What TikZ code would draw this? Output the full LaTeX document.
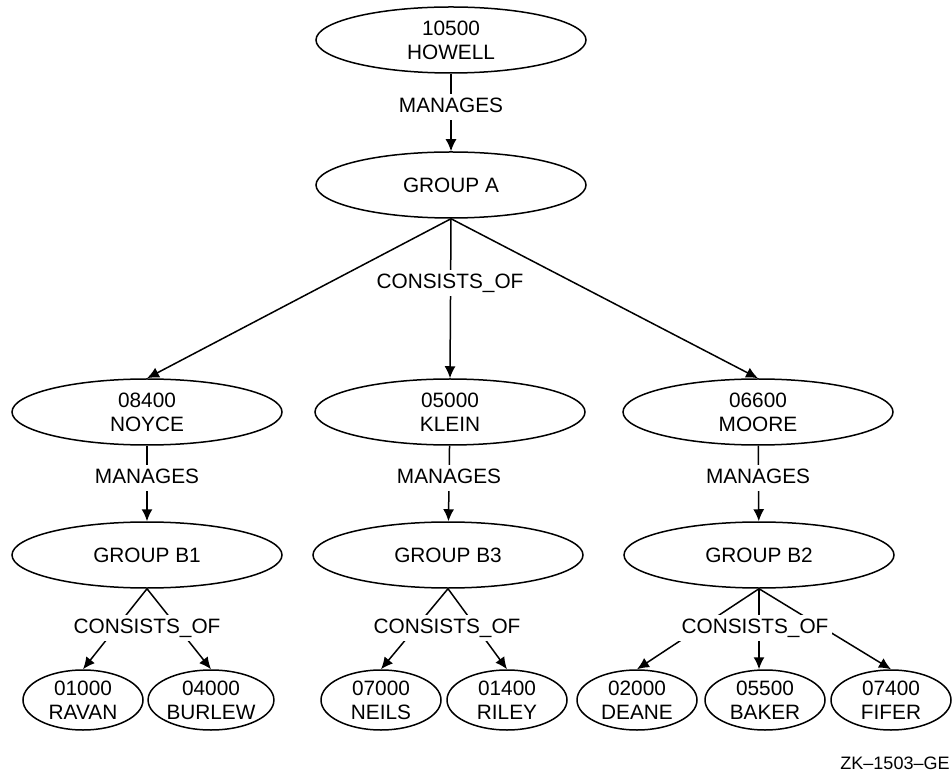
\documentclass[tikz,border=0pt]{standalone}
\usepackage{fontspec}
\setmainfont{Liberation Sans}
\usetikzlibrary{shapes.geometric,arrows.meta}

\begin{document}
\begin{tikzpicture}[x=0.5pt,y=-0.5pt,
    font=\fontsize{10.4}{12}\selectfont,
    ent/.style={draw, ellipse, line width=0.75pt, inner sep=0pt, align=center,
      minimum width=135pt, minimum height=33pt},
    leaf/.style={ent, minimum width=60pt, minimum height=30pt},
    rel/.style={fill=white, inner sep=2pt, text height=7.4pt, text depth=1.5pt},
    arr/.style={-{Latex[length=6pt,width=5.5pt]}, line width=0.75pt}]
      \useasboundingbox (0,0) rectangle (952,774);
      \node[ent] at (451,40) (howell) {10500\\HOWELL};
      \node[ent] at (451,185) (groupa) {GROUP A};
      \node[ent] at (147,412) (noyce) {08400\\NOYCE};
      \node[ent] at (450,412) (klein) {05000\\KLEIN};
      \node[ent] at (758,412) (moore) {06600\\MOORE};
      \node[ent] at (147,555) (groupb1) {GROUP B1};
      \node[ent] at (448,555) (groupb3) {GROUP B3};
      \node[ent] at (759,555) (groupb2) {GROUP B2};
      \node[leaf] at (83,700) (ravan) {01000\\RAVAN};
      \node[leaf] at (211,700) (burlew) {04000\\BURLEW};
      \node[leaf] at (381,700) (neils) {07000\\NEILS};
      \node[leaf] at (507,700) (riley) {01400\\RILEY};
      \node[leaf] at (637,700) (deane) {02000\\DEANE};
      \node[leaf] at (765,700) (baker) {05500\\BAKER};
      \node[leaf] at (891,700) (fifer) {07400\\FIFER};
      \draw[arr] (howell) -- (groupa);
      \draw[arr] (groupa.south) -- (noyce.north);
      \draw[arr] (groupa.south) -- (klein.north);
      \draw[arr] (groupa.south) -- (moore.north);
      \draw[arr] (noyce) -- (groupb1);
      \draw[arr] (klein) -- (groupb3);
      \draw[arr] (moore) -- (groupb2);
      \draw[arr] (groupb1.south) -- (ravan.north);
      \draw[arr] (groupb1.south) -- (burlew.north);
      \draw[arr] (groupb3.south) -- (neils.north);
      \draw[arr] (groupb3.south) -- (riley.north);
      \draw[arr] (groupb2.south) -- (deane.north);
      \draw[arr] (groupb2.south) -- (groupb2.south |- baker.north);
      \draw[arr] (groupb2.south) -- (fifer.north);
      % labels go on top of the lines
      \node[rel] at (451,107) (manages0) {MANAGES};
      \node[rel] at (450,283) (consists0) {CONSISTS\_OF};
      \node[rel] at (147,478) (manages1) {MANAGES};
      \node[rel] at (449,478) (manages3) {MANAGES};
      \node[rel] at (758,478) (manages2) {MANAGES};
      \node[rel] at (147,628) (consists1) {CONSISTS\_OF};
      \node[rel] at (447,628) (consists3) {CONSISTS\_OF};
      \node[rel] at (755,628) (consists2) {CONSISTS\_OF};
      \node[font=\fontsize{9}{11}\selectfont] at (895,763) (tag) {ZK–1503–GE};
    \end{tikzpicture}
\end{document}
